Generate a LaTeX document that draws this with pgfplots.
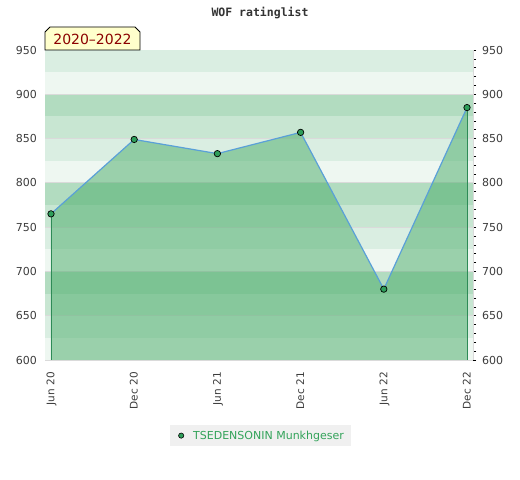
\documentclass[border=0pt]{standalone}
\usepackage{fontspec}
\setmainfont{DejaVu Sans}
\newfontfamily\monofont{DejaVu Sans Mono}
\usepackage{pgfplots}
\pgfplotsset{compat=1.18}
\definecolor{bandA}{HTML}{EEF7F1}
\definecolor{bandB}{HTML}{DAEEE2}
\definecolor{bandC}{HTML}{C8E6D2}
\definecolor{bandD}{HTML}{B2DCC0}
\definecolor{fillg}{HTML}{48AB67}
\definecolor{edgeg}{HTML}{2E8B57}
\definecolor{lineb}{HTML}{5AA0D8}
\definecolor{markg}{HTML}{2E9E5A}
\definecolor{gridg}{HTML}{DADADA}
\definecolor{tickt}{HTML}{3C3C3C}
\definecolor{legt}{HTML}{33A35A}
\definecolor{boxy}{HTML}{FFFFCC}
\definecolor{darkr}{HTML}{8B0000}
\definecolor{legbg}{HTML}{F0F0F0}
\pgfplotsset{band/.style={draw=none, fill=#1, forget plot}}
\begin{document}
\begin{tikzpicture}
\useasboundingbox (0bp,0bp) rectangle (520bp,480bp);
\begin{axis}[
  at={(45bp,120bp)}, anchor=south west,
  scale only axis, width=428bp, height=310bp,
  xmin=-0.072, xmax=5.072, ymin=600, ymax=950,
  xtick={0,1,2,3,4,5},
  xticklabels={Jun 20,Dec 20,Jun 21,Dec 21,Jun 22,Dec 22},
  ytick={600,650,700,750,800,850,900,950},
  axis line style={draw=gridg, line width=0.8bp},
  major tick length=0pt,
  xtick style={draw=none}, ytick style={draw=none},
  x tick label style={font=\fontsize{10.5bp}{12bp}\selectfont, text=tickt, xshift=3.5bp, yshift=-12bp, rotate=90, anchor=base east, inner sep=0pt},
  y tick label style={font=\fontsize{11bp}{13bp}\selectfont, text=tickt, anchor=east, inner sep=0pt, xshift=-8bp},
  /pgf/number format/assume math mode=true,
  legend style={at={(axis description cs:0.5035,-0.2097)}, anchor=north, fill=legbg, draw=none, font=\fontsize{11bp}{13bp}\selectfont, text=legt, inner xsep=5bp, inner ysep=3.5bp},
  legend cell align=left,
  legend image code/.code={\path[draw=none, fill=none] (0bp,0bp) -- (16bp,0bp); \path[draw=none] plot[mark=*, mark size=2.6bp, mark options={fill=markg, draw=black, line width=0.6bp}] coordinates {(6bp,0bp)};},
]
\addplot[band=bandA] coordinates {(-1,600)(6,600)(6,625)(-1,625)};
\addplot[band=bandB] coordinates {(-1,625)(6,625)(6,650)(-1,650)};
\addplot[band=bandC] coordinates {(-1,650)(6,650)(6,675)(-1,675)};
\addplot[band=bandD] coordinates {(-1,675)(6,675)(6,700)(-1,700)};
\addplot[band=bandA] coordinates {(-1,700)(6,700)(6,725)(-1,725)};
\addplot[band=bandB] coordinates {(-1,725)(6,725)(6,750)(-1,750)};
\addplot[band=bandC] coordinates {(-1,750)(6,750)(6,775)(-1,775)};
\addplot[band=bandD] coordinates {(-1,775)(6,775)(6,800)(-1,800)};
\addplot[band=bandA] coordinates {(-1,800)(6,800)(6,825)(-1,825)};
\addplot[band=bandB] coordinates {(-1,825)(6,825)(6,850)(-1,850)};
\addplot[band=bandC] coordinates {(-1,850)(6,850)(6,875)(-1,875)};
\addplot[band=bandD] coordinates {(-1,875)(6,875)(6,900)(-1,900)};
\addplot[band=bandA] coordinates {(-1,900)(6,900)(6,925)(-1,925)};
\addplot[band=bandB] coordinates {(-1,925)(6,925)(6,950)(-1,950)};
\addplot[gridg, line width=0.8bp, forget plot] coordinates {(-1,650)(6,650)};
\addplot[gridg, line width=0.8bp, forget plot] coordinates {(-1,700)(6,700)};
\addplot[gridg, line width=0.8bp, forget plot] coordinates {(-1,750)(6,750)};
\addplot[gridg, line width=0.8bp, forget plot] coordinates {(-1,800)(6,800)};
\addplot[gridg, line width=0.8bp, forget plot] coordinates {(-1,850)(6,850)};
\addplot[gridg, line width=0.8bp, forget plot] coordinates {(-1,900)(6,900)};
\addplot[draw=none, fill=fillg, fill opacity=0.5, forget plot] coordinates {(0,600)(0,765)(1,849)(2,833)(3,857)(4,680)(5,885)(5,600)};
\addplot[edgeg, line width=0.9bp, forget plot] coordinates {(0,600)(0,765)};
\addplot[edgeg, line width=0.9bp, forget plot] coordinates {(5,600)(5,885)};
\addplot[lineb, line width=1.2bp, mark=*, mark size=3.2bp, mark options={fill=markg, draw=black, line width=0.7bp}] coordinates {(0,765)(1,849)(2,833)(3,857)(4,680)(5,885)};
\addlegendentry{TSEDENSONIN Munkhgeser}
\end{axis}
\begin{axis}[
  at={(45bp,120bp)}, anchor=south west,
  scale only axis, width=428bp, height=310bp,
  xmin=-0.072, xmax=5.072, ymin=600, ymax=950,
  hide x axis,
  axis y line*=right,
  axis line style={draw=gridg, line width=0.8bp, -},
  ytick={600,650,700,750,800,850,900,950},
  minor y tick num=4,
  tick align=outside,
  major tick length=3bp, minor tick length=3bp,
  every tick/.style={black, line width=0.7bp},
  y tick label style={font=\fontsize{11bp}{13bp}\selectfont, text=tickt, anchor=west, inner sep=0pt, xshift=6bp},
  /pgf/number format/assume math mode=true,
]
\addplot[draw=none] coordinates {(0,700)};
\end{axis}
\node[font=\monofont\bfseries\fontsize{11.5bp}{13bp}\selectfont, text=black!80] at (260bp,467bp) {WOF ratinglist};
\draw[fill=boxy, line width=0.8bp] (45bp,430bp) -- (45bp,448bp) -- (50bp,453bp) -- (135bp,453bp) -- (140bp,448bp) -- (140bp,430bp) -- cycle;
\node[font=\fontsize{14bp}{16bp}\selectfont, text=darkr] at (92.5bp,440.5bp) {2020–2022};
\end{tikzpicture}
\end{document}
